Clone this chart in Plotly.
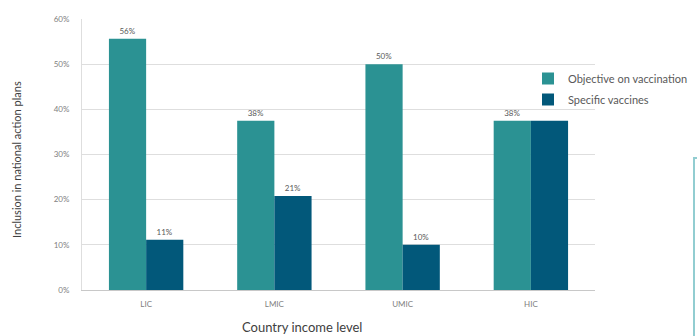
import plotly.graph_objects as go

categories = ["LIC", "LMIC", "UMIC", "HIC"]
objective_vals = [55.6, 37.5, 50.0, 37.5]
specific_vals = [11.1, 20.8, 10.0, 37.5]
objective_labels = ["56%", "38%", "50%", "38%"]
specific_labels = ["11%", "21%", "10%", ""]
y_ticks = [0, 10, 20, 30, 40, 50, 60]
y_tick_text = ["0%", "10%", "20%", "30%", "40%", "50%", "60%"]

TEAL = "#2B9293"
DARK = "#02587A"
FONT = "Lato, Open Sans, sans-serif"

W, H = 697, 336
L, R, T, B = 82, 102, 19, 46
pw, ph = W - L - R, H - T - B

def px_x(x):
    return (x - L) / pw

def px_y(y):
    return (H - B - y) / ph

fig = go.Figure()
fig.add_trace(go.Bar(
    x=categories, y=objective_vals, name="Objective on vaccination",
    marker=dict(color=TEAL, line=dict(width=0)),
    text=objective_labels, textposition="outside",
    textfont=dict(size=8, color="#595959", family=FONT),
    legendgroup="a", cliponaxis=False,
))
fig.add_trace(go.Bar(
    x=categories, y=specific_vals, name="Specific vaccines",
    marker=dict(color=DARK, line=dict(width=0)),
    text=specific_labels, textposition="outside",
    textfont=dict(size=8, color="#595959", family=FONT),
    legendgroup="b", cliponaxis=False,
))

fig.update_layout(
    width=W, height=H,
    margin=dict(l=L, r=R, t=T, b=B, autoexpand=False),
    paper_bgcolor="white", plot_bgcolor="white",
    font=dict(family=FONT, color="#595959"),
    barmode="group", bargap=0.42, bargroupgap=0,
    showlegend=True,
    legend=dict(
        x=px_x(528), y=px_y(64), xanchor="left", yanchor="top",
        font=dict(size=11, color="#595959", family=FONT),
        bgcolor="rgba(0,0,0,0)", traceorder="grouped", tracegroupgap=2,
        itemwidth=30,
    ),
    xaxis=dict(
        showgrid=False, showline=True, linecolor="#c8c8c8", linewidth=1,
        ticks="", tickfont=dict(size=8, color="#808080", family=FONT),
        ticklabelstandoff=6,
    ),
    yaxis=dict(
        range=[0, 60], tickvals=y_ticks, ticktext=y_tick_text,
        showgrid=True, gridcolor="#dedede", gridwidth=1,
        showline=True, linecolor="#dedede", linewidth=1,
        zeroline=False, ticks="",
        tickfont=dict(size=8, color="#808080", family=FONT),
        ticklabelstandoff=10,
    ),
    annotations=[
        dict(text="Inclusion in national action plans", textangle=-90,
             xref="paper", yref="paper", x=px_x(16), y=px_y(160),
             xanchor="center", yanchor="middle", showarrow=False,
             font=dict(size=11, color="#404040", family=FONT)),
        dict(text="Country income level",
             xref="paper", yref="paper", x=px_x(302), y=px_y(327),
             xanchor="center", yanchor="middle", showarrow=False,
             font=dict(size=13, color="#404040", family=FONT)),
    ],
    shapes=[
        dict(type="path", xref="paper", yref="paper",
             path=f"M {px_x(700)} {px_y(158)} L {px_x(694)} {px_y(158)} L {px_x(694)} {px_y(340)}",
             line=dict(color="#92CDD1", width=2)),
    ],
)

fig.write_html("out.html")
